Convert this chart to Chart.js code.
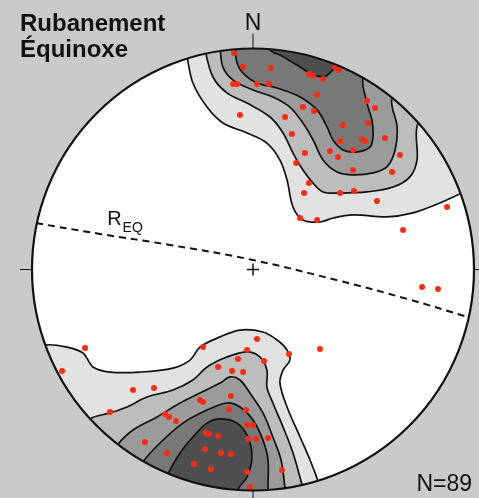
<!DOCTYPE html>
<html>
<head>
<meta charset="utf-8">
<script src="https://cdn.jsdelivr.net/npm/chart.js@4.4.1/dist/chart.umd.min.js"></script>
<style>
  html, body { margin: 0; padding: 0; background: #cacaca; }
  canvas { display: block; }
</style>
</head>
<body>
<canvas id="stereonet" width="479" height="498"></canvas>
<script>
// projected coordinates, primitive circle radius = 100
// contour levels (1 = lightest), north and south clusters; the few points past r=100 close the shapes outside the net
const northC1 = [[-34,111],[-29.9,96.2],[-27.2,84.4],[-20.8,73.5],[-13.6,66.3],[-2.7,61.8],[6.3,57.2],[12.2,49.5],[15.4,40.5],[18.1,28.3],[22.6,22.4],[30.3,21.5],[36.2,23.3],[45.3,24.7],[60.6,23.8],[72.4,25.6],[84.6,30.1],[94.6,34.6],[109,40],[115,90],[40,135],[-40,125]];
const northC2 = [[-25,114],[-21.7,99.3],[-18.1,87.1],[-11.8,79.9],[-2.7,75.3],[7.7,69.0],[13.6,61.8],[18.1,52.7],[22.6,45.0],[27.2,39.1],[31.7,35.1],[39.4,34.6],[51.6,35.1],[63.4,37.3],[71.0,41.9],[74.2,49.5],[74.7,66.3],[86,76],[85,110],[20,130]];
const northC3 = [[-17,115],[-14.9,100.2],[-13.6,91.6],[-9.0,85.7],[0,81.2],[9.0,78.1],[16.7,73.5],[22.6,66.3],[27.2,58.6],[31.7,49.5],[38.0,44.1],[45.3,42.8],[54.3,43.7],[60.6,46.4],[64.3,54.1],[65.2,64.5],[62.9,77.6],[72,90],[50,125],[0,130]];
const northC4 = [[-9,115],[-8.1,100.2],[-7.2,93.4],[-4.5,88.9],[1.8,84.4],[10.9,82.1],[21.3,78.1],[29.0,72.2],[33.5,64.5],[36.2,58.6],[40.7,54.1],[47.1,53.2],[52.9,55.4],[54.3,60.0],[53.8,67.6],[51.6,75.3],[49.8,86.7],[57,100],[30,125]];
const northC5 = [[9,115],[7.7,99.8],[9.5,98.0],[12.2,97.1],[19.9,92.5],[25.8,88.9],[31.7,87.1],[34.8,88.9],[37.1,91.6],[38.0,92.5],[44,106],[25,120]];

const southC1 = [[-108,-39],[-94.1,-34.2],[-84.2,-35.1],[-76.9,-37.8],[-72.4,-44.1],[-64.7,-46.4],[-51.1,-46.4],[-36.2,-44.6],[-28.5,-41.0],[-24.0,-35.1],[-14.9,-30.5],[-5.9,-27.4],[4.5,-28.3],[10.9,-31.9],[15.4,-36.4],[16.7,-41.0],[13.6,-45.5],[12.2,-51.4],[15.4,-62.2],[21.3,-75.8],[25.8,-86.2],[29.4,-95.7],[34,-110],[0,-130],[-70,-115],[-110,-75]];
const southC2 = [[-85,-78],[-73.8,-67.6],[-64.7,-64.9],[-57.0,-62.2],[-48.0,-57.7],[-36.2,-54.5],[-27.2,-50.0],[-20.8,-44.1],[-11.8,-39.6],[-2.7,-37.3],[3.2,-39.6],[6.3,-45.5],[6.3,-53.2],[9.0,-60.4],[13.6,-71.3],[18.1,-83.0],[22.2,-97.5],[26,-112],[-10,-130],[-60,-115]];
const southC3 = [[-70,-91],[-61.1,-79.0],[-54.3,-72.6],[-43.4,-66.7],[-33.0,-60.4],[-24.0,-55.9],[-14.9,-51.4],[-10.4,-48.6],[-5.9,-50.0],[-1.4,-55.9],[4.5,-64.9],[9.0,-75.8],[12.7,-86.2],[14.5,-98.9],[17,-114],[-20,-125],[-55,-115]];
const southC4 = [[-57,-100],[-49.8,-87.1],[-42.1,-78.5],[-31.7,-69.5],[-20.8,-63.6],[-11.8,-60.4],[-5.9,-62.2],[0,-68.1],[4.5,-77.2],[6.8,-86.2],[6.8,-99.8],[8,-115],[-25,-120]];
const southC5 = [[-44,-106],[-38.5,-92.5],[-33.0,-83.0],[-27.2,-75.8],[-20.8,-69.5],[-14.9,-67.6],[-7.2,-69.5],[-2.3,-75.8],[-0.5,-84.8],[-2.7,-93.9],[-6.8,-99.8],[-8,-115],[-25,-118]];

// R_EQ great circle
const reqPlane = [[-98.2,21.0],[-69.2,16.1],[-37.6,11.1],[0,4.3],[39.4,-5.2],[69.7,-13.3],[97.3,-21.5]];

// poles to banding
const poles = [
  [-8.6,98.0],[-4.5,91.6],[8.1,91.2],[-9.0,83.9],[-7.2,83.9],[1.8,83.9],[7.2,83.9],[25.3,88.5],[27.2,87.6],[31.7,86.2],
  [37.1,91.6],[38.5,90.3],[29.0,79.0],[22.6,73.5],[27.6,71.7],[-5.9,69.9],[14.5,69.0],[51.6,76.2],[55.2,73.1],[40.7,65.4],
  [52.0,66.3],[17.6,61.3],[39.4,58.1],[49.3,59.1],[50.7,58.1],[59.7,59.5],[34.8,53.6],[45.3,54.1],[23.5,52.7],[38.5,50.9],
  [66.5,51.8],[19.5,48.2],[45.3,45.0],[62.9,44.1],[25.3,39.1],[23.1,34.6],[39.4,34.6],[45.7,35.5],[56.1,31.0],[87.8,28.3],
  [21.3,23.3],[29.0,22.4],[67.9,17.9],[76.5,-7.9],[83.7,-8.8],
  [-76.0,-35.5],[-86.4,-45.9],[-22.6,-35.1],[1.8,-31.4],[-2.7,-36.4],[16.3,-38.2],[30.3,-36.0],[-6.8,-40.5],[5.0,-41.4],[-15.8,-44.1],
  [-9.5,-45.9],[-4.5,-46.4],[-54.3,-54.5],[-44.8,-53.6],[-64.7,-64.5],[-24.0,-59.1],[-22.6,-60.0],[-10.0,-57.2],[-39.8,-65.4],[-38.0,-66.7],
  [-34.8,-68.6],[-10.9,-63.1],[-3.2,-63.6],[-2.7,-70.4],[0,-70.4],[-48.9,-78.1],[-21.3,-74.0],[-19.9,-74.4],[-15.8,-75.3],[-2.3,-76.7],
  [1.4,-76.7],[6.8,-76.2],[-38.9,-83.0],[-21.7,-81.2],[-14.5,-83.0],[-10.0,-83.5],[-26.7,-88.0],[-19.0,-90.3],[-2.7,-91.6],[13.1,-90.7],
  [-1.4,-98.4]
];

const levelColors = ['#e2e2e2', '#bdbdbd', '#9b9b9b', '#787878', '#4f4f4f'];
const reqLabelAt = [-66, 20];
const countLabel = 'N=89';

const toXY = arr => arr.map(p => ({x: p[0], y: p[1]}));

function contour(points, level) {
  return {
    type: 'line',
    data: toXY(points),
    fill: 'shape',
    backgroundColor: levelColors[level - 1],
    borderColor: '#111',
    borderWidth: 1.7,
    pointRadius: 0,
    tension: 0.35,
    capBezierPoints: false,
    clip: false,
    order: 20 - level
  };
}

function net(chart) {
  const {x, y} = chart.scales;
  const cx = x.getPixelForValue(0);
  const cy = y.getPixelForValue(0);
  return {cx, cy, r: x.getPixelForValue(100) - cx};
}

const stereoPlugin = {
  id: 'stereo',
  beforeDraw(chart) {
    const ctx = chart.ctx;
    const {cx, cy, r} = net(chart);
    ctx.save();
    ctx.fillStyle = '#cacaca';
    ctx.fillRect(0, 0, chart.width, chart.height);
    ctx.beginPath();
    ctx.arc(cx, cy, r, 0, Math.PI * 2);
    ctx.fillStyle = '#fff';
    ctx.fill();
    ctx.restore();
  },
  beforeDatasetsDraw(chart) {
    const ctx = chart.ctx;
    const {cx, cy, r} = net(chart);
    ctx.save();
    ctx.beginPath();
    ctx.arc(cx, cy, r, 0, Math.PI * 2);
    ctx.clip();
  },
  afterDatasetsDraw(chart) {
    const ctx = chart.ctx;
    ctx.restore();
    const {cx, cy, r} = net(chart);
    ctx.save();
    ctx.strokeStyle = '#111';
    ctx.lineWidth = 2.2;
    ctx.beginPath();
    ctx.arc(cx, cy, r, 0, Math.PI * 2);
    ctx.stroke();

    // ticks N / W / S / E
    ctx.lineWidth = 1;
    ctx.beginPath();
    ctx.moveTo(cx, cy - r); ctx.lineTo(cx, cy - r - 15);
    ctx.moveTo(cx - r, cy); ctx.lineTo(cx - r - 12, cy);
    ctx.moveTo(cx, cy + r); ctx.lineTo(cx, cy + r + 12);
    ctx.moveTo(cx + r, cy); ctx.lineTo(cx + r + 12, cy);
    ctx.stroke();
    // centre cross
    ctx.lineWidth = 1.5;
    ctx.beginPath();
    ctx.moveTo(cx - 6, cy); ctx.lineTo(cx + 6, cy);
    ctx.moveTo(cx, cy - 6); ctx.lineTo(cx, cy + 6);
    ctx.stroke();
    ctx.restore();
  },
  afterDraw(chart) {
    const ctx = chart.ctx;
    const {x, y} = chart.scales;
    const {cx, cy, r} = net(chart);
    ctx.save();
    ctx.fillStyle = '#111';
    ctx.textBaseline = 'alphabetic';

    ctx.font = 'bold 24px "Liberation Sans", Arial, sans-serif';
    ctx.textAlign = 'left';
    ctx.fillText('Rubanement', 20, 31);
    ctx.fillText('Équinoxe', 20, 57);

    ctx.font = '23px "Liberation Sans", Arial, sans-serif';
    ctx.textAlign = 'center';
    ctx.fillText('N', cx, cy - r - 19);

    ctx.textAlign = 'right';
    ctx.fillText(countLabel, chart.width - 7, 491);

    const lx = x.getPixelForValue(reqLabelAt[0]);
    const ly = y.getPixelForValue(reqLabelAt[1]);
    ctx.textAlign = 'left';
    ctx.font = '20px "Liberation Sans", Arial, sans-serif';
    ctx.fillText('R', lx, ly);
    const rw = ctx.measureText('R').width;
    ctx.font = '14px "Liberation Sans", Arial, sans-serif';
    ctx.fillText('EQ', lx + rw + 1, ly + 7);
    ctx.restore();
  }
};

new Chart(document.getElementById('stereonet'), {
  type: 'line',
  data: {
    datasets: [
      contour(northC1, 1), contour(northC2, 2), contour(northC3, 3), contour(northC4, 4), contour(northC5, 5),
      contour(southC1, 1), contour(southC2, 2), contour(southC3, 3), contour(southC4, 4), contour(southC5, 5),
      {
        type: 'line',
        data: toXY(reqPlane),
        borderColor: '#111',
        borderWidth: 2,
        borderDash: [7, 5],
        pointRadius: 0,
        fill: false,
        tension: 0.4,
        order: 3
      },
      {
        type: 'scatter',
        data: toXY(poles),
        pointRadius: 3,
        pointBackgroundColor: '#ff2a12',
        pointBorderWidth: 0,
        order: 1
      }
    ]
  },
  options: {
    responsive: false,
    animation: false,
    devicePixelRatio: 1,
    events: [],
    layout: { padding: { left: 32, right: 5, top: 48.5, bottom: 7.5 } },
    scales: {
      x: { type: 'linear', min: -100, max: 100, display: false },
      y: { type: 'linear', min: -100, max: 100, display: false }
    },
    plugins: { legend: { display: false }, tooltip: { enabled: false } }
  },
  plugins: [stereoPlugin]
});
</script>
</body>
</html>
